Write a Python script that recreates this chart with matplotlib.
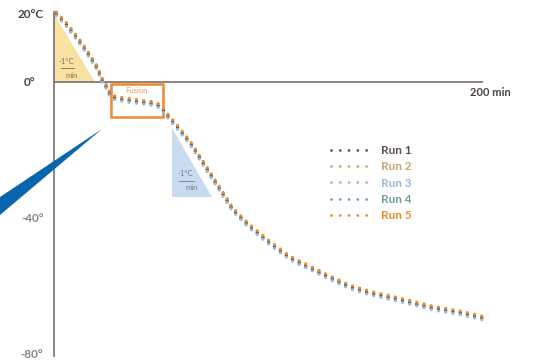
import matplotlib
matplotlib.use("Agg")
import matplotlib.pyplot as plt
import matplotlib.transforms as mtransforms
from matplotlib.lines import Line2D
from matplotlib.patches import Polygon, Rectangle

# cooling curve (minutes, degC)
time_min = [1, 5.1, 8.9, 13.1, 16.8, 20.1, 22.4, 24.8, 26.2, 28.5, 32.5, 36.9, 41.0,
            44.9, 49.5, 52.8, 57.5, 63.6, 69.6, 76.2, 83.6, 91.6, 100.9, 110.3,
            119.6, 129.0, 138.3, 147.7, 161.7, 177.1, 189.7, 200]
temp_c = [20, 17.4, 14.4, 10.9, 7.4, 4.1, 0.6, -1.8, -3.8, -4.7, -5.2, -5.6, -5.9,
          -6.2, -7.1, -9.7, -13.2, -17.9, -23.8, -30.3, -37.6, -42.6, -47.4, -51.8,
          -54.7, -57.6, -60.3, -62.1, -64.1, -66.5, -67.9, -69.4]

run_names = ["Run 1", "Run 2", "Run 3", "Run 4", "Run 5"]
run_colors = ["#5b4f4f", "#c9a66c", "#95b9de", "#6ca395", "#f08a26"]

ytick_vals = [20, 0, -40, -80]
ytick_labels = ["20°C", "0°", "-40°", "-80°"]
ytick_colors = ["#4b4242", "#4b4242", "#8d8585", "#8d8585"]

# slope triangles and fusion window
yellow_tri_t = [0, 0, 19.2]
yellow_tri_T = [20, 0, 0]
blue_tri_t = [55.1, 55.1, 73.8]
blue_tri_T = [-13.5, -33.8, -33.8]
fusion_t = (26.6, 50.9)
fusion_T = (-10.3, -0.6)

FONT = "Lato"

fig = plt.figure(figsize=(5.34, 3.64), dpi=100)
fig.patch.set_facecolor("white")
ax = fig.add_axes([54 / 534, 10 / 364, 428 / 534, 340 / 364])
ax.set_xlim(0, 200)
ax.set_ylim(-80, 20)
ax.set_axis_off()

# blue wedge at the left edge
fig.patches.append(Polygon([(0, 1 - 197 / 364), (102 / 534, 1 - 129 / 364), (0, 1 - 215 / 364)],
                           closed=True, transform=fig.transFigure, facecolor="#0a66ac",
                           edgecolor="none", zorder=5))

ax.fill(yellow_tri_t, yellow_tri_T, color="#f7e2a4", zorder=1, lw=0)
ax.fill(blue_tri_t, blue_tri_T, color="#c9dbee", zorder=1, lw=0)

# axis lines
ax.axvline(0, color="#857876", lw=1.3, zorder=2, clip_on=False, ymin=-0.005, ymax=1.005)
ax.axhline(0, color="#857876", lw=1.3, zorder=2, clip_on=False)

ax.add_patch(Rectangle((fusion_t[0], fusion_T[0]), fusion_t[1] - fusion_t[0],
                       fusion_T[1] - fusion_T[0], fill=False, edgecolor="#ec8a30",
                       lw=1.8, zorder=3))
ax.text(sum(fusion_t) / 2, -2.6, "Fusion", color="#ef9a50", fontsize=5.5,
        ha="center", va="center", family=FONT)

# slope labels
ax.text(5.6, 6.0, "-1°C", color="#8c7045", fontsize=5.5, ha="center", va="center", family=FONT)
ax.plot([3.2, 9.5], [4.0, 4.0], color="#8c7045", lw=0.6)
ax.text(8.4, 1.9, "min", color="#8c7045", fontsize=5.5, ha="center", va="center", family=FONT)
ax.text(61.4, -27.0, "-1°C", color="#6f8195", fontsize=5.5, ha="center", va="center", family=FONT)
ax.plot([58.5, 65.5], [-29.0, -29.0], color="#6f8195", lw=0.6)
ax.text(64.5, -31.0, "min", color="#6f8195", fontsize=5.5, ha="center", va="center", family=FONT)

# the five runs, nearly on top of each other (small vertical nudge so each shows)
nudge_pt = [0.0, 0.9, -1.3, -0.6, 1.4]
draw_order = [2, 1, 3, 0, 4]
for i, (name, col) in enumerate(zip(run_names, run_colors)):
    tr = mtransforms.offset_copy(ax.transData, fig=fig, x=0, y=nudge_pt[i], units="points")
    ax.plot(time_min, temp_c, color=col, lw=2.3, linestyle=(0, (0.01, 2.3)),
            dash_capstyle="round", zorder=4 + draw_order[i] * 0.1, clip_on=False,
            transform=tr)

# y labels
for val, lab, col in zip(ytick_vals, ytick_labels, ytick_colors):
    off = -19 / 2.14 if lab == "0°" else -10.5 / 2.14
    ax.text(off, val, lab, color=col, fontsize=8.5, fontweight="bold", family=FONT,
            ha="right", va="center", clip_on=False)

ax.text(194.4, -3.2, "200 min", color="#4b4242", fontsize=8, fontweight="bold",
        family=FONT, ha="left", va="center", clip_on=False)

handles = [Line2D([0], [0], color=c, lw=2.0, linestyle=(0, (0.01, 3.15)),
                  dash_capstyle="round") for c in run_colors]
leg = ax.legend(handles, run_names, loc="upper left", frameon=False,
                bbox_to_anchor=(331 / 534, 1 - 145 / 364), bbox_transform=fig.transFigure,
                borderpad=0, borderaxespad=0, handlelength=3.2, handletextpad=1.0,
                labelspacing=0.45, labelcolor=run_colors,
                prop={"family": FONT, "weight": "bold", "size": 8.5})

fig.savefig("out.png", dpi=100)
